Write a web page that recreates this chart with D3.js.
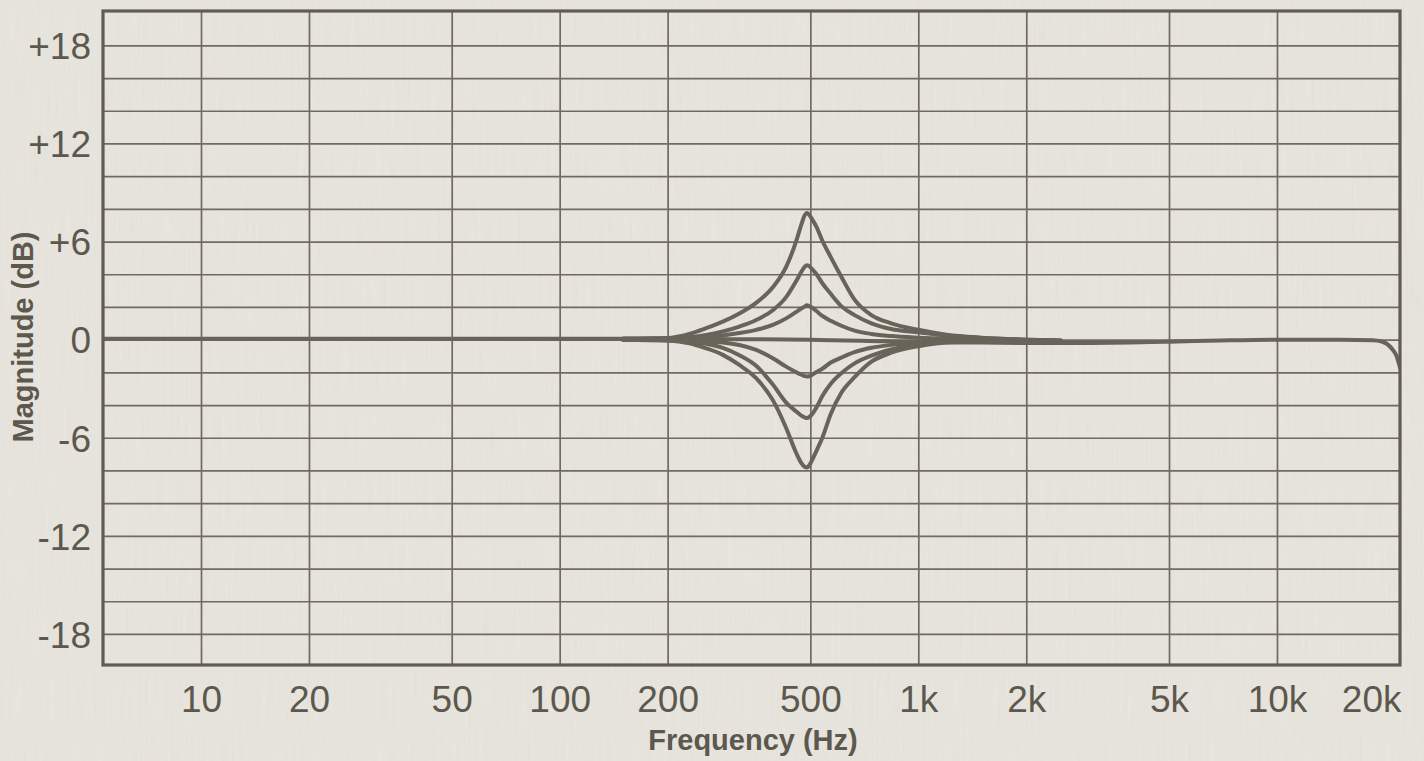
<!DOCTYPE html>
<html>
<head>
<meta charset="utf-8">
<script src="https://cdn.jsdelivr.net/npm/d3@7"></script>
<style>
  html, body { margin: 0; padding: 0; background: #e7e4dd; }
  svg { display: block; }
</style>
</head>
<body>
<div id="chart"></div>
<script>
// ---------------- DATA ----------------
const xTickValues = [10, 20, 50, 100, 200, 500, 1000, 2000, 5000, 10000, 20000];
const xTickLabels = ["10", "20", "50", "100", "200", "500", "1k", "2k", "5k", "10k", "20k"];
const xGridValues = [10, 20, 50, 100, 200, 500, 1000, 2000, 5000, 10000];
const yTickValues = [18, 12, 6, 0, -6, -12, -18];
const yTickLabels = ["+18", "+12", "+6", "0", "-6", "-12", "-18"];
const yGridValues = [-18, -16, -14, -12, -10, -8, -6, -4, -2, 0, 2, 4, 6, 8, 10, 12, 14, 16, 18];
const xTitle = "Frequency (Hz)";
const yTitle = "Magnitude (dB)";

// flat (0 dB) response across the whole band
const flatFreq = [5.33, 50, 150, 300, 500, 800, 1000, 1500, 2000, 3000, 5000, 7000, 10000, 15000, 18500, 19500, 20300, 20900, 21500, 22030];
const flatDb   = [0.05, 0.05, 0.05, 0.03, 0.0, -0.1, -0.15, -0.18, -0.2, -0.2, -0.13, -0.05, 0.0, 0.0, -0.03, -0.1, -0.28, -0.55, -0.95, -1.7];

// bell (peaking) EQ responses around 500 Hz
const eqFreq = [150, 200, 230, 256, 285, 317, 353, 393, 428, 457, 472, 482, 489, 496, 506, 520, 540, 570, 610, 664, 740, 840, 1000, 1200, 1500, 2000, 2500];
const boost8Db = [0.05, 0.1, 0.35, 0.7, 1.1, 1.6, 2.25, 3.2, 4.45, 6.05, 7.05, 7.6, 7.75, 7.65, 7.35, 6.9, 6.05, 5.05, 3.85, 2.45, 1.5, 1.0, 0.6, 0.3, 0.12, 0.0, -0.05];
const boost4Db = [0.05, 0.08, 0.15, 0.28, 0.5, 0.8, 1.2, 1.8, 2.6, 3.6, 4.15, 4.45, 4.55, 4.5, 4.3, 4.0, 3.45, 2.8, 2.05, 1.5, 1.0, 0.65, 0.45, 0.25, 0.1, 0.0, -0.05];
const boost2Db = [0.05, 0.05, 0.1, 0.15, 0.25, 0.4, 0.6, 0.9, 1.3, 1.7, 1.9, 2.02, 2.1, 2.05, 1.95, 1.75, 1.45, 1.15, 0.85, 0.55, 0.35, 0.22, 0.12, 0.05, 0.0, -0.05, -0.08];
const cut2Db   = [0.02, -0.02, -0.06, -0.1, -0.17, -0.33, -0.63, -1.14, -1.65, -2.0, -2.15, -2.23, -2.26, -2.24, -2.15, -1.98, -1.78, -1.4, -1.1, -0.77, -0.5, -0.32, -0.17, -0.12, -0.12, -0.14, -0.14];
const cut5Db   = [0.0, -0.05, -0.13, -0.25, -0.5, -0.95, -1.6, -2.75, -3.85, -4.4, -4.65, -4.76, -4.8, -4.75, -4.55, -4.15, -3.45, -2.7, -2.05, -1.45, -0.98, -0.6, -0.27, -0.12, -0.1, -0.12, -0.14];
const cut8Db   = [0.0, -0.05, -0.22, -0.53, -0.93, -1.55, -2.36, -3.7, -5.4, -6.95, -7.55, -7.78, -7.82, -7.7, -7.35, -6.8, -6.0, -4.55, -3.25, -2.3, -1.35, -0.8, -0.4, -0.17, -0.12, -0.14, -0.14];
const eqSeries = [boost8Db, boost4Db, boost2Db, cut2Db, cut5Db, cut8Db];

// ---------------- LAYOUT ----------------
const W = 1424, H = 761;
const plot = { left: 103, right: 1400, top: 11, bottom: 665 };
const ink = "#68645a";
const gridInk = "#6f6b61";
const textInk = "#5c584d";

const svg = d3.select("#chart").append("svg")
  .attr("width", W).attr("height", H)
  .attr("viewBox", `0 0 ${W} ${H}`);

const defs = svg.append("defs");
// subtle paper texture
const f = defs.append("filter").attr("id", "paper").attr("x", 0).attr("y", 0).attr("width", "100%").attr("height", "100%");
f.append("feTurbulence").attr("type", "fractalNoise").attr("baseFrequency", "0.35 0.015").attr("numOctaves", 2).attr("seed", 7).attr("result", "n");
f.append("feColorMatrix").attr("in", "n").attr("type", "matrix")
  .attr("values", "0 0 0 0 0.55  0 0 0 0 0.53  0 0 0 0 0.49  0 0 0 0.26 -0.05");
defs.append("clipPath").attr("id", "plotClip").append("rect")
  .attr("x", plot.left).attr("y", plot.top)
  .attr("width", plot.right - plot.left).attr("height", plot.bottom - plot.top);

svg.append("rect").attr("width", W).attr("height", H).attr("fill", "#e8e5de");
svg.append("rect").attr("width", W).attr("height", H).attr("filter", "url(#paper)").attr("opacity", 0.6);

const x = d3.scaleLog().domain([5.33, 22030]).range([plot.left, plot.right]);
const y = d3.scaleLinear().domain([-19.9, 20.1]).range([plot.bottom, plot.top]);

// ---------------- GRID ----------------
const grid = svg.append("g").attr("clip-path", "url(#plotClip)");
grid.append("g")
  .attr("transform", `translate(0,${plot.bottom})`)
  .call(d3.axisBottom(x).tickValues(xGridValues).tickSize(-(plot.bottom - plot.top)).tickFormat(""))
  .call(g => g.select(".domain").remove())
  .call(g => g.selectAll("line").attr("stroke", gridInk).attr("stroke-width", 1.7));
grid.append("g")
  .attr("transform", `translate(${plot.left},0)`)
  .call(d3.axisLeft(y).tickValues(yGridValues).tickSize(-(plot.right - plot.left)).tickFormat(""))
  .call(g => g.select(".domain").remove())
  .call(g => g.selectAll("line").attr("stroke", gridInk).attr("stroke-width", 1.7));

// ---------------- CURVES ----------------
const line = d3.line()
  .x(d => x(d[0]))
  .y(d => y(d[1]))
  .curve(d3.curveMonotoneX);

const curves = svg.append("g").attr("clip-path", "url(#plotClip)")
  .attr("fill", "none").attr("stroke", ink).attr("stroke-width", 4)
  .attr("stroke-linejoin", "round").attr("stroke-linecap", "round");

curves.append("path").attr("d", line(d3.zip(flatFreq, flatDb)));
curves.selectAll("path.eq").data(eqSeries).join("path")
  .attr("class", "eq")
  .attr("d", s => line(d3.zip(eqFreq, s)));

// ---------------- FRAME ----------------
svg.append("rect")
  .attr("x", plot.left).attr("y", plot.top)
  .attr("width", plot.right - plot.left).attr("height", plot.bottom - plot.top)
  .attr("fill", "none").attr("stroke", "#605c51").attr("stroke-width", 3.2);

// ---------------- AXES LABELS ----------------
const font = "'Liberation Sans', Arial, Helvetica, sans-serif";

const xAxis = svg.append("g")
  .attr("transform", `translate(0,${plot.bottom})`)
  .call(d3.axisBottom(x).tickValues(xTickValues).tickSize(0).tickPadding(0)
    .tickFormat((d, i) => xTickLabels[i]));
xAxis.select(".domain").remove();
xAxis.selectAll("text")
  .attr("y", 47).attr("dy", 0)
  .attr("font-family", font).attr("font-size", 37).attr("fill", textInk);
// keep the last label inside the frame's right edge
xAxis.selectAll(".tick").each(function() {
  const t = d3.select(this).select("text");
  const bb = this.getBBox();
  const m = this.transform.baseVal.consolidate().matrix;
  const right = m.e + bb.x + bb.width;
  if (right > plot.right + 2) t.attr("x", -(right - plot.right - 2));
});

const yAxis = svg.append("g")
  .attr("transform", `translate(${plot.left},0)`)
  .call(d3.axisLeft(y).tickValues(yTickValues).tickSize(0).tickPadding(12)
    .tickFormat((d, i) => yTickLabels[i]));
yAxis.select(".domain").remove();
yAxis.selectAll("text")
  .attr("dy", "0.36em")
  .attr("font-family", font).attr("font-size", 37).attr("fill", textInk);

svg.append("text")
  .attr("x", 753).attr("y", 750)
  .attr("text-anchor", "middle")
  .attr("font-family", font).attr("font-weight", "bold").attr("font-size", 29)
  .attr("fill", textInk)
  .text(xTitle);

svg.append("text")
  .attr("transform", `translate(33,337) rotate(-90)`)
  .attr("text-anchor", "middle")
  .attr("font-family", font).attr("font-weight", "bold").attr("font-size", 29)
  .attr("fill", textInk)
  .text(yTitle);
</script>
</body>
</html>
